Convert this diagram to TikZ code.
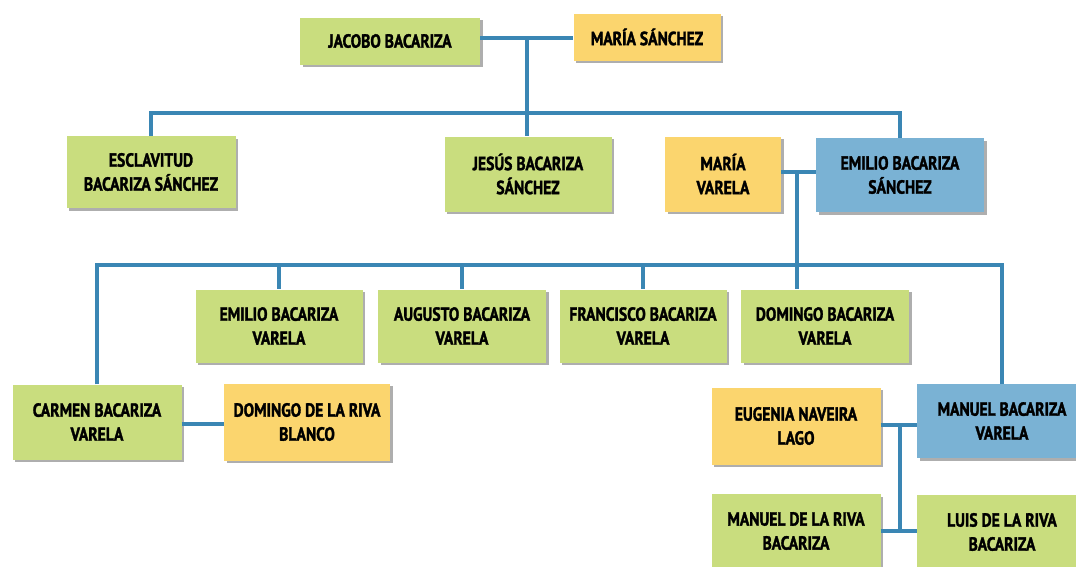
\documentclass[tikz,border=0pt]{standalone}
\usepackage{fontspec}
\newfontfamily\boxfont[FakeStretch=0.82, FakeBold=1.6]{PT Sans Bold}
\usetikzlibrary{shadows}
\definecolor{gfill}{RGB}{201,221,126}
\definecolor{yfill}{RGB}{251,213,110}
\definecolor{bfill}{RGB}{122,178,212}
\definecolor{linec}{RGB}{58,134,180}
\tikzset{
  person/.style={draw=none, align=center, inner sep=0pt,
    font=\boxfont\fontsize{19}{24}\selectfont, text=black,
    drop shadow={opacity=0.45, shadow xshift=2.5pt, shadow yshift=-2.5pt, fill=black!70}},
  gbox/.style={person, fill=gfill},
  ybox/.style={person, fill=yfill},
  bbox/.style={person, fill=bfill},
  link/.style={draw=linec, line width=3.2pt}
}
\begin{document}
\begin{tikzpicture}[x=1pt,y=-1pt]
\useasboundingbox (0,0) rectangle (1076,566);
% row 1
\node[gbox, minimum width=180pt, minimum height=47pt] (jacobo) at (390,41) {JACOBO BACARIZA};
\node[ybox, minimum width=147pt, minimum height=47pt] (msanchez) at (647,37) {MARÍA SÁNCHEZ};
% row 2
\node[gbox, minimum width=169pt, minimum height=72pt] (esclav) at (151,172) {ESCLAVITUD\\BACARIZA SÁNCHEZ};
\node[gbox, minimum width=167pt, minimum height=75pt] (jesus) at (528,174) {JESÚS BACARIZA\\SÁNCHEZ};
\node[ybox, minimum width=116pt, minimum height=75pt] (mvarela) at (723,174) {MARÍA\\VARELA};
\node[bbox, minimum width=168pt, minimum height=74pt] (emilios) at (900,175) {EMILIO BACARIZA\\SÁNCHEZ};
% row 3
\node[gbox, minimum width=167pt, minimum height=73pt] (emiliov) at (279,326) {EMILIO BACARIZA\\VARELA};
\node[gbox, minimum width=168pt, minimum height=73pt] (augusto) at (462,326) {AUGUSTO BACARIZA\\VARELA};
\node[gbox, minimum width=167pt, minimum height=73pt] (francisco) at (643,326) {FRANCISCO BACARIZA\\VARELA};
\node[gbox, minimum width=168pt, minimum height=73pt] (domingo) at (825,326) {DOMINGO BACARIZA\\VARELA};
% row 4
\node[gbox, minimum width=169pt, minimum height=75pt] (carmen) at (97,422) {CARMEN BACARIZA\\VARELA};
\node[ybox, minimum width=166pt, minimum height=77pt] (dlrb) at (307,422) {DOMINGO DE LA RIVA\\BLANCO};
\node[ybox, minimum width=169pt, minimum height=77pt] (eugenia) at (796,426) {EUGENIA NAVEIRA\\LAGO};
\node[bbox, minimum width=170pt, minimum height=74pt] (manuelv) at (1002,421) {MANUEL BACARIZA\\VARELA};
% row 5
\node[gbox, minimum width=169pt, minimum height=74pt] (manuelr) at (796,531) {MANUEL DE LA RIVA\\BACARIZA};
\node[gbox, minimum width=170pt, minimum height=74pt] (luis) at (1002,532) {LUIS DE LA RIVA\\BACARIZA};
% connectors
\coordinate (c1) at (527,38);
\coordinate (b1) at (527,113);
\draw[link] (jacobo.east |- c1) -- (c1 -| msanchez.west);
\draw[link] (c1) -- (c1 |- jesus.north);
\draw[link] (esclav.north) |- (b1) -| (emilios.north);
\coordinate (c2) at (797,172);
\coordinate (b2) at (797,265);
\draw[link] (mvarela.east |- c2) -- (c2 -| emilios.west);
\draw[link] (c2) -- (c2 |- domingo.north);
\draw[link] (carmen.north) |- (b2) -| (manuelv.north);
\draw[link] (b2 -| emiliov.north) -- (emiliov.north);
\draw[link] (b2 -| augusto.north) -- (augusto.north);
\draw[link] (b2 -| francisco.north) -- (francisco.north);
\coordinate (c3) at (900,425);
\coordinate (c4) at (900,531);
\draw[link] (carmen.east |- 0,424) -- (dlrb.west |- 0,424);
\draw[link] (eugenia.east |- c3) -- (c3 -| manuelv.west);
\draw[link] (c3) -- (c4);
\draw[link] (manuelr.east |- c4) -- (c4 -| luis.west);
\end{tikzpicture}
\end{document}
